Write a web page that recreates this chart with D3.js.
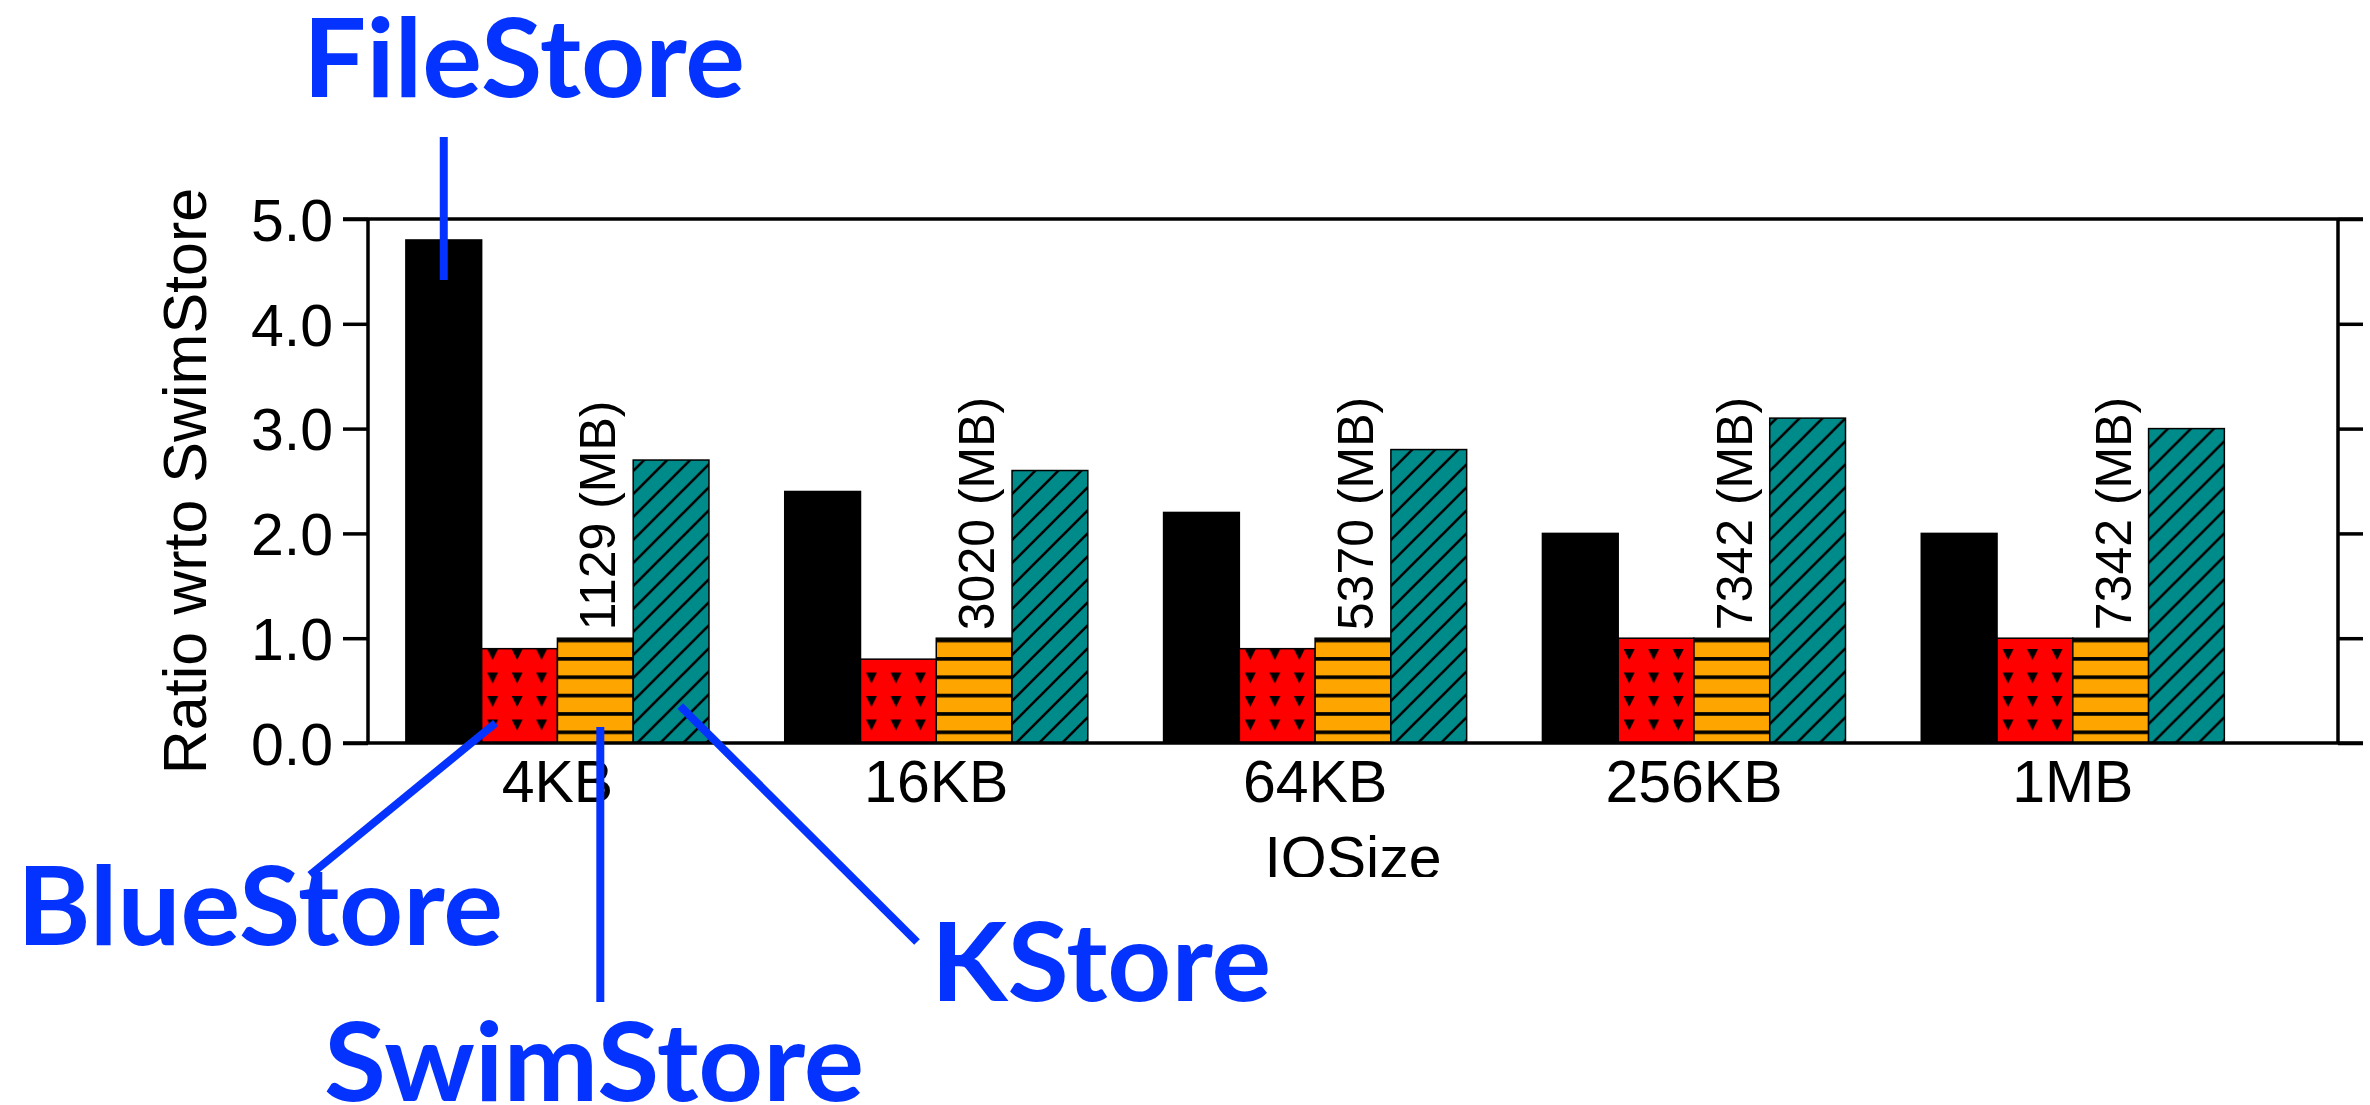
<!DOCTYPE html>
<html>
<head>
<meta charset="utf-8">
<script src="https://cdn.jsdelivr.net/npm/d3@7"></script>
<style>
  html, body { margin: 0; padding: 0; background: #ffffff; }
  svg { display: block; }
</style>
</head>
<body>
<script>
// ---- data ----
const categories = ["4KB", "16KB", "64KB", "256KB", "1MB"];
const seriesNames = ["FileStore", "BlueStore", "SwimStore", "KStore"];
const fileStore = [4.8, 2.4, 2.2, 2.0, 2.0];
const blueStore = [0.9, 0.8, 0.9, 1.0, 1.0];
const swimStore = [1.0, 1.0, 1.0, 1.0, 1.0];
const kStore    = [2.7, 2.6, 2.8, 3.1, 3.0];
const swimStoreMB = [1129, 3020, 5370, 7342, 7342];
const yTickValues = [0, 1, 2, 3, 4, 5];
const yTitle = "Ratio wrto SwimStore";
const xTitle = "IOSize";

const seriesValues = { FileStore: fileStore, BlueStore: blueStore, SwimStore: swimStore, KStore: kStore };

// ---- layout ----
const W = 2370, H = 1105;
const L = 368, R = 2338, T = 219, B = 743;
const unit = (R - L) / 26;            // one bar width
const tickLen = 25;
const axisFont = "'Liberation Sans', Arial, Helvetica, sans-serif";
const noteFont = "Lato, 'Open Sans', sans-serif";
const blue = "#0433ff";

const svg = d3.select("body").append("svg")
  .attr("width", W).attr("height", H)
  .attr("viewBox", `0 0 ${W} ${H}`);
svg.append("rect").attr("width", W).attr("height", H).attr("fill", "#fff");

const x0 = d3.scaleBand().domain(categories)
  .range([L + 0.5 * unit, L + 24.5 * unit])
  .paddingInner(0.2).paddingOuter(0);
const x1 = d3.scaleBand().domain(seriesNames).range([0, x0.bandwidth()]);
const y = d3.scaleLinear().domain([0, 5]).range([B, T]);

// ---- fill patterns (anchored on each bar's left edge and the baseline) ----
const defs = svg.append("defs");

function patternRed(id, bx) {
  const p = defs.append("pattern").attr("id", id)
    .attr("patternUnits", "userSpaceOnUse")
    .attr("x", bx).attr("y", y(0)).attr("width", 24.5).attr("height", 23.5);
  p.append("rect").attr("width", 24.5).attr("height", 23.5).attr("fill", "#ff0000");
  p.append("path").attr("d", "M5.5,0 L16.5,0 L11,11 Z").attr("fill", "#000");
}
function patternOrange(id, bx) {
  const h = 18.36;
  const p = defs.append("pattern").attr("id", id)
    .attr("patternUnits", "userSpaceOnUse")
    .attr("x", bx).attr("y", y(0)).attr("width", 20).attr("height", h);
  p.append("rect").attr("width", 20).attr("height", h).attr("fill", "#ffa500");
  p.append("rect").attr("y", 7.66 - 1.8).attr("width", 20).attr("height", 3.6).attr("fill", "#000");
}
function patternTeal(id, bx) {
  const s = 23;
  const p = defs.append("pattern").attr("id", id)
    .attr("patternUnits", "userSpaceOnUse")
    .attr("x", bx + 4).attr("y", y(0)).attr("width", s).attr("height", s);
  p.append("rect").attr("width", s).attr("height", s).attr("fill", "#008b8b");
  p.append("path")
    .attr("d", `M-2,${s + 2} L${s + 2},-2 M-2,2 L2,-2 M${s - 2},${s + 2} L${s + 2},${s - 2}`)
    .attr("stroke", "#000").attr("stroke-width", 2.6).attr("fill", "none");
}

// ---- bars ----
const bars = [];
categories.forEach((c, i) => {
  seriesNames.forEach(s => {
    bars.push({ cat: c, idx: i, series: s, value: seriesValues[s][i] });
  });
});

bars.forEach(d => {
  const bx = x0(d.cat) + x1(d.series);
  const id = `fill-${d.series}-${d.idx}`;
  if (d.series === "FileStore") d.fill = "#000";
  else {
    if (d.series === "BlueStore") patternRed(id, bx);
    if (d.series === "SwimStore") patternOrange(id, bx);
    if (d.series === "KStore") patternTeal(id, bx);
    d.fill = `url(#${id})`;
  }
});

svg.append("g").selectAll("rect").data(bars).join("rect")
  .attr("x", d => x0(d.cat) + x1(d.series))
  .attr("y", d => y(d.value))
  .attr("width", x1.bandwidth())
  .attr("height", d => y(0) - y(d.value))
  .attr("fill", d => d.fill)
  .attr("stroke", "#000")
  .attr("stroke-width", 1.5);

// ---- frame and axes ----
const frame = svg.append("g").attr("stroke", "#000").attr("stroke-width", 3.5);
frame.append("line").attr("x1", L - tickLen).attr("x2", R + tickLen).attr("y1", y(5)).attr("y2", y(5));
frame.append("line").attr("x1", L - tickLen).attr("x2", R + tickLen).attr("y1", y(0)).attr("y2", y(0));

const yAxisL = d3.axisLeft(y).tickValues(yTickValues).tickFormat(d3.format(".1f"))
  .tickSize(tickLen).tickPadding(10);
const gL = svg.append("g").attr("transform", `translate(${L},0)`).call(yAxisL);
gL.select(".domain").attr("stroke", "#000").attr("stroke-width", 3.5)
  .attr("d", `M0,${y(5)}V${y(0)}`);
gL.selectAll(".tick line").attr("stroke", "#000").attr("stroke-width", 3.5);
gL.selectAll(".tick text").attr("font-family", axisFont).attr("font-size", 59)
  .attr("fill", "#000").attr("dy", "0.36em");

const yAxisR = d3.axisRight(y).tickValues(yTickValues).tickFormat("").tickSize(tickLen);
const gR = svg.append("g").attr("transform", `translate(${R},0)`).call(yAxisR);
gR.select(".domain").attr("stroke", "#000").attr("stroke-width", 3.5)
  .attr("d", `M0,${y(5)}V${y(0)}`);
gR.selectAll(".tick line").attr("stroke", "#000").attr("stroke-width", 3.5);

const xAxis = d3.axisBottom(x0).tickSize(0).tickPadding(17);
const gX = svg.append("g").attr("transform", `translate(0,${y(0)})`).call(xAxis);
gX.select(".domain").remove();
gX.selectAll(".tick text").attr("font-family", axisFont).attr("font-size", 59).attr("fill", "#000");

// axis titles
svg.append("text")
  .attr("transform", `translate(206,${(y(0) + y(5)) / 2}) rotate(-90)`)
  .attr("text-anchor", "middle")
  .attr("font-family", axisFont).attr("font-size", 61).attr("fill", "#000")
  .text(yTitle);

defs.append("clipPath").attr("id", "xtitle-clip")
  .append("rect").attr("x", 0).attr("y", 0).attr("width", W).attr("height", 877);
svg.append("text")
  .attr("clip-path", "url(#xtitle-clip)")
  .attr("x", (L + R) / 2).attr("y", 878)
  .attr("text-anchor", "middle")
  .attr("font-family", axisFont).attr("font-size", 59).attr("fill", "#000")
  .text(xTitle);

// SwimStore absolute size labels above the orange bars
svg.append("g").selectAll("text").data(categories).join("text")
  .attr("transform", (c, i) => {
    const cx = x0(c) + x1("SwimStore") + x1.bandwidth() / 2 + 3;
    return `translate(${cx},${y(swimStore[i]) - 8}) rotate(-90)`;
  })
  .attr("text-anchor", "start")
  .attr("dominant-baseline", "central")
  .attr("font-family", axisFont).attr("font-size", 50).attr("fill", "#000")
  .text((c, i) => `${swimStoreMB[i]} (MB)`);

// ---- callouts naming each series ----
const c0 = categories[0];
const barLeft = s => x0(c0) + x1(s);
const barMid = s => barLeft(s) + x1.bandwidth() / 2;

const callouts = [
  { name: "FileStore", line: [[barMid("FileStore"), 137], [barMid("FileStore"), y(fileStore[0]) + 40]],
    tx: 303, ty: 97, len: 442 },
  { name: "BlueStore", line: [[barLeft("BlueStore") + 14, y(0) - 20], [310, 875]],
    tx: 17, ty: 945, len: 486 },
  { name: "SwimStore", line: [[barMid("SwimStore") + 5, y(0) - 16], [barMid("SwimStore") + 5, 1002]],
    tx: 324, ty: 1101, len: 540 },
  { name: "KStore", line: [[barLeft("KStore") + 47, y(0) - 37], [917, 942]],
    tx: 931, ty: 1001, len: 340 }
];

const gc = svg.append("g");
gc.selectAll("line").data(callouts).join("line")
  .attr("x1", d => d.line[0][0]).attr("y1", d => d.line[0][1])
  .attr("x2", d => d.line[1][0]).attr("y2", d => d.line[1][1])
  .attr("stroke", blue).attr("stroke-width", 8);
gc.selectAll("text").data(callouts).join("text")
  .attr("x", d => d.tx).attr("y", d => d.ty)
  .attr("textLength", d => d.len).attr("lengthAdjust", "spacingAndGlyphs")
  .attr("font-family", noteFont).attr("font-weight", 700).attr("font-size", 110)
  .attr("fill", blue)
  .text(d => d.name);
</script>
</body>
</html>
